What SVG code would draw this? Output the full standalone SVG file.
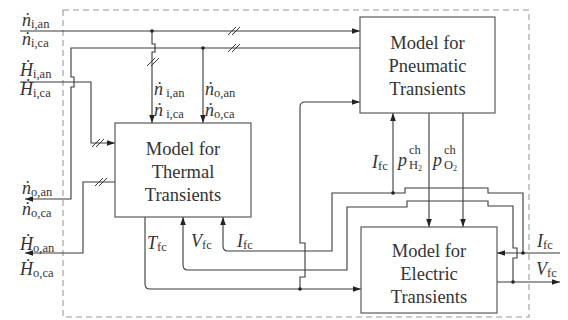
<svg xmlns="http://www.w3.org/2000/svg" width="568" height="320" viewBox="0 0 568 320">
<style>
.ln{fill:none;stroke:#3a3a3a;stroke-width:1.1}
.bx{fill:#fff;stroke:#5a5a5a;stroke-width:1.2}
text{font-family:'Liberation Serif',serif;fill:#333}
.lb{font-size:18.5px;text-anchor:middle}
.m{font-size:18px;font-style:italic}
.s{font-style:normal;font-size:12.5px}
.dt{fill:#222}
.sl{fill:none;stroke:#3a3a3a;stroke-width:1}
</style>
<defs>
<marker id="ah" viewBox="0 0 10 10" refX="10" refY="5" markerWidth="8" markerHeight="8" orient="auto" markerUnits="userSpaceOnUse">
<path d="M0,1.5 L10,5 L0,8.5 z" fill="#222"/>
</marker>
<g id="dsl"><path class="sl" d="M-6,4 L2,-4 M-2,4 L6,-4"/></g>
</defs>
<rect x="63" y="10" width="466" height="307" fill="none" stroke="#9a9a9a" stroke-width="1.1" stroke-dasharray="6,4"/>
<g id="connectors">
<path class="ln" d="M20,31 H360" marker-end="url(#ah)"/>
<path class="ln" d="M152,31 V44 H155 V52 H152 V123" marker-end="url(#ah)"/>
<path class="ln" d="M360,48 H71 V77 H74 V87 H71 V199 H25" marker-end="url(#ah)"/>
<path class="ln" d="M203,48 V123" marker-end="url(#ah)"/>
<path class="ln" d="M20,82 H91 V143 H115" marker-end="url(#ah)"/>
<path class="ln" d="M115,182 H83 V253 H25" marker-end="url(#ah)"/>
<path class="ln" d="M145,217 V284 Q145,289 150,289 H361" marker-end="url(#ah)"/>
<path class="ln" d="M300,289 V277 H305 V243 H300 V107 Q300,102 305,102 H360" marker-end="url(#ah)"/>
<path class="ln" d="M560,253 H497" marker-end="url(#ah)"/>
<path class="ln" d="M523,253 V193 H488 V188 H405 V193 H332 V251 H228 Q223,251 223,246 V217" marker-end="url(#ah)"/>
<path class="ln" d="M393,193 V113" marker-end="url(#ah)"/>
<path class="ln" d="M497,282 H560" marker-end="url(#ah)"/>
<path class="ln" d="M513,282 V258 H517 V248 H513 V206 H488 V201 H407 V207 H347 V270 H188 Q183,270 183,265 V217" marker-end="url(#ah)"/>
<path class="ln" d="M429,113 V227" marker-end="url(#ah)"/>
<path class="ln" d="M463,113 V227" marker-end="url(#ah)"/>
<circle class="dt" cx="152" cy="31" r="1.8"/>
<circle class="dt" cx="203" cy="48" r="1.8"/>
<circle class="dt" cx="300" cy="289" r="1.8"/>
<circle class="dt" cx="523" cy="253" r="1.8"/>
<circle class="dt" cx="393" cy="193" r="1.8"/>
<circle class="dt" cx="513" cy="282" r="1.8"/>
<use href="#dsl" x="234" y="31"/>
<use href="#dsl" x="234" y="48"/>
<use href="#dsl" x="153" y="62"/>
<use href="#dsl" x="98" y="143"/>
<use href="#dsl" x="101" y="182"/>
</g>
<g id="pneumatic">
<rect class="bx" x="360" y="17" width="135" height="96"/>
<text class="lb" x="427.5" y="49">Model for</text>
<text class="lb" x="427.5" y="72">Pneumatic</text>
<text class="lb" x="427.5" y="95">Transients</text>
</g>
<g id="thermal">
<rect class="bx" x="115" y="123" width="136" height="94"/>
<text class="lb" x="183" y="155">Model for</text>
<text class="lb" x="183" y="178">Thermal</text>
<text class="lb" x="183" y="201">Transients</text>
</g>
<g id="electric">
<rect class="bx" x="361" y="227" width="136" height="86"/>
<text class="lb" x="429" y="257">Model for</text>
<text class="lb" x="429" y="280">Electric</text>
<text class="lb" x="429" y="303">Transients</text>
</g>
<g id="labels">
<text class="m" x="22" y="26">ṅ<tspan class="s" dy="2">i,an</tspan></text>
<text class="m" x="22" y="45">ṅ<tspan class="s" dy="2">i,ca</tspan></text>
<text class="m" x="20" y="76">Ḣ<tspan class="s" dy="2">i,an</tspan></text>
<text class="m" x="20" y="95">Ḣ<tspan class="s" dy="2">i,ca</tspan></text>
<text class="m" x="22" y="194">ṅ<tspan class="s" dy="2">o,an</tspan></text>
<text class="m" x="22" y="215">ṅ<tspan class="s" dy="2">o,ca</tspan></text>
<text class="m" x="20" y="250">Ḣ<tspan class="s" dy="2">o,an</tspan></text>
<text class="m" x="20" y="275">Ḣ<tspan class="s" dy="2">o,ca</tspan></text>
<text class="m" x="154" y="95">ṅ<tspan class="s" dy="2"> i,an</tspan></text>
<text class="m" x="154" y="116">ṅ<tspan class="s" dy="2"> i,ca</tspan></text>
<text class="m" x="205" y="95">ṅ<tspan class="s" dy="2">o,an</tspan></text>
<text class="m" x="205" y="116">ṅ<tspan class="s" dy="2">o,ca</tspan></text>
<text class="m" x="372" y="168">I<tspan class="s" dy="2">fc</tspan></text>
<text class="m" x="398" y="166">p</text>
<text class="s" x="409" y="154">ch</text>
<text class="s" x="409" y="169">H<tspan font-size="8" dy="2">2</tspan></text>
<text class="m" x="433" y="166">p</text>
<text class="s" x="444" y="154">ch</text>
<text class="s" x="444" y="169">O<tspan font-size="8" dy="2">2</tspan></text>
<text class="m" x="537" y="247">I<tspan class="s" dy="2">fc</tspan></text>
<text class="m" x="536" y="275">V<tspan class="s" dy="2">fc</tspan></text>
<text class="m" x="147" y="249">T<tspan class="s" dy="2">fc</tspan></text>
<text class="m" x="191" y="247">V<tspan class="s" dy="2">fc</tspan></text>
<text class="m" x="237" y="247">I<tspan class="s" dy="2">fc</tspan></text>
</g>
</svg>
